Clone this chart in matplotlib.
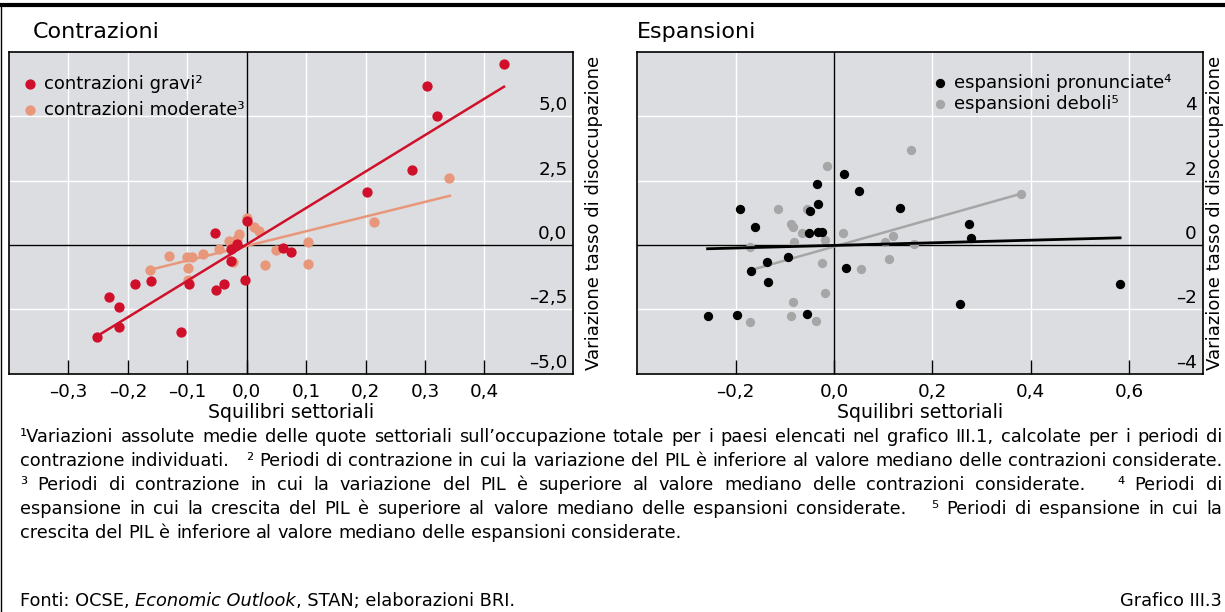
import matplotlib
matplotlib.use('Agg')
import matplotlib.pyplot as plt
import matplotlib.transforms as mtransforms
from matplotlib.lines import Line2D

# data
grav_x = [-0.252, -0.232, -0.215, -0.215, -0.188, -0.161, -0.110, -0.097, -0.054, -0.051, -0.039, -0.026,
          -0.027, -0.017, -0.002, 0.001, 0.061, 0.074, 0.203, 0.278, 0.303, 0.321, 0.433]
grav_y = [-3.58, -2.04, -2.41, -3.18, -1.52, -1.42, -3.40, -1.52, 0.48, -1.77, -1.53, -0.62,
          -0.17, 0.04, -1.38, 0.93, -0.12, -0.26, 2.06, 2.90, 6.16, 5.01, 7.04]
mod_x = [-0.163, -0.130, -0.101, -0.092, -0.098, -0.099, -0.073, -0.046, -0.030, -0.023, -0.013,
         -0.016, 0.001, 0.012, 0.020, 0.030, 0.050, 0.103, 0.103, 0.214, 0.341]
mod_y = [-0.99, -0.43, -0.48, -0.48, -0.88, -1.35, -0.34, -0.15, 0.14, -0.68, 0.42,
         0.22, 1.06, 0.68, 0.55, -0.80, -0.19, 0.10, -0.73, 0.88, 2.61]
fit_grav_x = [-0.252, 0.433]
fit_grav_y = [-3.55, 6.15]
fit_mod_x = [-0.163, 0.342]
fit_mod_y = [-0.97, 1.91]

pron_x = [-0.256, -0.198, -0.192, -0.160, -0.168, -0.137, -0.135, -0.094, -0.054, -0.051, -0.049, -0.035,
          -0.032, -0.033, -0.024, 0.020, 0.024, 0.050, 0.134, 0.274, 0.278, 0.257, 0.581]
pron_y = [-2.22, -2.19, 1.12, 0.57, -0.80, -0.53, -1.16, -0.39, -2.15, 0.38, 1.05, 1.88,
          1.27, 0.40, 0.40, 2.22, -0.72, 1.69, 1.14, 0.65, 0.21, -1.83, -1.22]
deb_x = [-0.171, -0.171, -0.113, -0.088, -0.083, -0.088, -0.083, -0.081, -0.065, -0.055, -0.036, -0.025,
         -0.019, -0.018, -0.015, 0.019, 0.055, 0.103, 0.111, 0.121, 0.157, 0.163, 0.380]
deb_y = [-2.40, -0.05, 1.12, 0.65, 0.57, -2.22, -1.79, 0.09, 0.36, 1.12, -2.38, -0.57,
         -1.49, 0.16, 2.45, 0.36, -0.75, 0.08, -0.44, 0.29, 2.94, 0.03, 1.59]
fit_pron_x = [-0.257, 0.582]
fit_pron_y = [-0.12, 0.22]
fit_deb_x = [-0.168, 0.380]
fit_deb_y = [-0.78, 1.59]

left_xticks = [-0.3, -0.2, -0.1, 0.0, 0.1, 0.2, 0.3, 0.4]
left_yticks = [-5.0, -2.5, 0.0, 2.5, 5.0]
right_xticks = [-0.2, 0.0, 0.2, 0.4, 0.6]
right_yticks = [-4, -2, 0, 2, 4]

footnotes = [
    "¹Variazioni assolute medie delle quote settoriali sull’occupazione totale per i paesi elencati nel grafico III.1, calcolate per i periodi di",
    "contrazione individuati.   ² Periodi di contrazione in cui la variazione del PIL è inferiore al valore mediano delle contrazioni considerate.",
    "³ Periodi di contrazione in cui la variazione del PIL è superiore al valore mediano delle contrazioni considerate.   ⁴ Periodi di",
    "espansione in cui la crescita del PIL è superiore al valore mediano delle espansioni considerate.   ⁵ Periodi di espansione in cui la",
    "crescita del PIL è inferiore al valore mediano delle espansioni considerate.",
]

RED = '#d0102a'
ORANGE = '#e8977a'
GREY = '#a6a6a6'
BG = '#dcdde0'

plt.rcParams['font.family'] = ['DejaVu Sans']

W, H = 1225, 612
fig = plt.figure(figsize=(W / 100, H / 100), dpi=100)
renderer = fig.canvas.get_renderer()


def fmt_num(v, dec):
    s = ('{:.%df}' % dec).format(v).replace('.', ',')
    return s.replace('-', '–')


def setup_axes(ax, xlim, ylim, xticks, yticks, xdec, ydec):
    ax.set_facecolor(BG)
    ax.set_xlim(*xlim)
    ax.set_ylim(*ylim)
    ax.set_xticks(xticks)
    ax.set_xticklabels([fmt_num(v, xdec) for v in xticks], fontsize=13.2)
    ax.set_yticks(yticks)
    ax.set_yticklabels([])
    ax.tick_params(axis='x', direction='in', length=10, width=1, pad=7)
    ax.tick_params(axis='y', length=0)
    ax.grid(True, color='white', lw=1)
    ax.set_axisbelow(True)
    for sp in ax.spines.values():
        sp.set_linewidth(1.2)
    ax.axhline(0, color='black', lw=1, zorder=1.5)
    ax.axvline(0, color='black', lw=1, zorder=1.5)
    trans = mtransforms.blended_transform_factory(ax.transAxes, ax.transData)
    trans = mtransforms.offset_copy(trans, fig=fig, x=-6, y=2, units='dots')
    for v in yticks:
        ax.text(1.0, v, fmt_num(v, ydec), transform=trans, ha='right', va='bottom', fontsize=13.2)
    ax.set_xlabel('Squilibri settoriali', fontsize=13.6, labelpad=1)


# left panel
ax1 = fig.add_axes([9 / W, 1 - 373.5 / H, 564.5 / W, 321.5 / H])
setup_axes(ax1, (-0.4, 0.55), (-5, 7.5), left_xticks, left_yticks, 1, 1)
ax1.plot(fit_mod_x, fit_mod_y, color=ORANGE, lw=1.8, zorder=2)
ax1.scatter(mod_x, mod_y, s=55, color=ORANGE, lw=0, zorder=3, label='contrazioni moderate³')
ax1.plot(fit_grav_x, fit_grav_y, color=RED, lw=1.8, zorder=4)
ax1.scatter(grav_x, grav_y, s=55, color=RED, lw=0, zorder=5, label='contrazioni gravi²')
h, l = ax1.get_legend_handles_labels()
ax1.legend(h[::-1], l[::-1], loc='upper left', bbox_to_anchor=(0.025, 0.93), frameon=False,
           fontsize=13, handletextpad=0.38, labelspacing=0.47, borderaxespad=0, borderpad=0,
           handlelength=0.8)
ax1.text(1.037, 0.5, 'Variazione tasso di disoccupazione', transform=ax1.transAxes, rotation=90,
         ha='center', va='center', fontsize=13)

# right panel
ax2 = fig.add_axes([637.3 / W, 1 - 373.5 / H, 565.4 / W, 321.5 / H])
setup_axes(ax2, (-0.4, 0.75), (-4, 6), right_xticks, right_yticks, 1, 0)
ax2.scatter(deb_x, deb_y, s=45, color=GREY, lw=0, zorder=2, label='espansioni deboli⁵')
ax2.plot(fit_deb_x, fit_deb_y, color=GREY, lw=1.8, zorder=3)
ax2.scatter(pron_x, pron_y, s=45, color='black', lw=0, zorder=4, label='espansioni pronunciate⁴')
ax2.plot(fit_pron_x, fit_pron_y, color='black', lw=2, zorder=5)
h, l = ax2.get_legend_handles_labels()
ax2.legend(h[::-1], l[::-1], loc='upper left', bbox_to_anchor=(0.522, 0.933), frameon=False,
           fontsize=13, handletextpad=0.4, labelspacing=0.2, borderaxespad=0, borderpad=0,
           handlelength=0.8)
ax2.text(1.022, 0.5, 'Variazione tasso di disoccupazione', transform=ax2.transAxes, rotation=90,
         ha='center', va='center', fontsize=13)

# titles
fig.text(33 / W, 1 - 32 / H, 'Contrazioni', fontsize=16, ha='left', va='center')
fig.text(637 / W, 1 - 32 / H, 'Espansioni', fontsize=16, ha='left', va='center')

# frame lines
fig.add_artist(Line2D([0, 1], [1 - 5 / H, 1 - 5 / H], transform=fig.transFigure, color='black', lw=3))
fig.add_artist(Line2D([0.6 / W, 0.6 / W], [0, 1 - 5 / H], transform=fig.transFigure, color='black', lw=1))


def text_width(s, size, **kw):
    t = fig.text(0, 0, s, fontsize=size, **kw)
    w = t.get_window_extent(renderer).width
    t.remove()
    return w


# footnotes, justified between x0 and x1; size chosen so the longest line just fits
x0, x1 = 20, 1222
fs = 12.0
widest = max(text_width(line, fs) for line in footnotes)
fs = fs * (x1 - x0 - 6) / widest
space = text_width('a a', fs) - 2 * text_width('a', fs)
for i, line in enumerate(footnotes):
    y = 1 - (442 + 24 * i) / H
    words = line.split(' ')
    widths = [text_width(w, fs) if w else 0 for w in words]
    if i == len(footnotes) - 1:
        gap = space
    else:
        gap = (x1 - x0 - sum(widths)) / (len(words) - 1)
    x = x0
    for w, wd in zip(words, widths):
        if w:
            fig.text(x / W, y, w, fontsize=fs, va='baseline', ha='left')
        x += wd + gap

yb = 1 - 606 / H
fig.text(20 / W, yb, 'Fonti: OCSE, ', fontsize=fs, va='baseline', ha='left')
wf = text_width('Fonti: OCSE, ', fs)
fig.text((20 + wf) / W, yb, 'Economic Outlook', fontsize=fs, style='italic', va='baseline')
wi = text_width('Economic Outlook', fs, style='italic')
fig.text((20 + wf + wi) / W, yb, ', STAN; elaborazioni BRI.', fontsize=fs, va='baseline')
fig.text(1222 / W, yb, 'Grafico III.3', fontsize=fs, va='baseline', ha='right')

fig.savefig('out.png', dpi=100)
